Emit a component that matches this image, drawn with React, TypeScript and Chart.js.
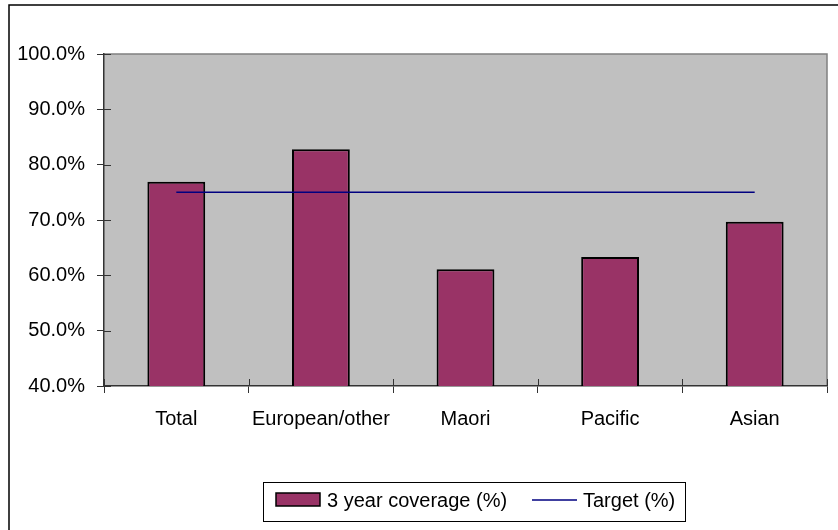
import React, { useEffect, useRef } from "react";
import { Chart, registerables } from "chart.js";

Chart.register(...registerables);

const categories = ["Total", "European/other", "Maori", "Pacific", "Asian"];
const coverage = [76.9, 82.8, 61.1, 63.3, 69.7];
const target = [75, 75, 75, 75, 75];
const yTicks = { min: 40, max: 100, step: 10 };
const seriesLabels = ["3 year coverage (%)", "Target (%)"];

const FONT = "'Liberation Sans', Arial, sans-serif";
const FONT_SIZE = 20;

const backgroundPlugin = {
  id: "plotBg",
  beforeDraw(chart: any) {
    const { ctx, chartArea } = chart;
    ctx.save();
    ctx.fillStyle = "#ffffff";
    ctx.fillRect(0, 0, chart.width, chart.height);
    // outer frame
    ctx.strokeStyle = "#000000";
    ctx.lineWidth = 1.5;
    ctx.strokeRect(9, 5, chart.width + 50, chart.height + 50);
    // plot area
    ctx.fillStyle = "#C0C0C0";
    ctx.fillRect(chartArea.left, chartArea.top, chartArea.right - chartArea.left, chartArea.bottom - chartArea.top);
    ctx.strokeStyle = "#808080";
    ctx.lineWidth = 1.5;
    ctx.beginPath();
    ctx.moveTo(chartArea.left, chartArea.top);
    ctx.lineTo(chartArea.right, chartArea.top);
    ctx.lineTo(chartArea.right, chartArea.bottom);
    ctx.stroke();
    ctx.restore();
  },
  afterDatasetsDraw(chart: any) {
    // inner halves of tick marks
    const { ctx, chartArea } = chart;
    const x = chart.scales.x;
    const y = chart.scales.y;
    ctx.save();
    ctx.strokeStyle = "#333333";
    ctx.lineWidth = 1;
    ctx.beginPath();
    y.ticks.forEach((_: any, i: number) => {
      const py = Math.round(y.getPixelForTick(i)) + 0.5;
      ctx.moveTo(chartArea.left, py);
      ctx.lineTo(chartArea.left + 7, py);
    });
    for (let i = 0; i <= categories.length; i++) {
      const px = Math.round(x.left + (i * (x.right - x.left)) / categories.length) + 0.5;
      ctx.moveTo(px, chartArea.bottom);
      ctx.lineTo(px, chartArea.bottom - 7);
    }
    ctx.stroke();
    ctx.restore();
  },
};

const legendPlugin = {
  id: "customLegend",
  afterDraw(chart: any) {
    const { ctx } = chart;
    const ds0 = chart.data.datasets[0];
    const ds1 = chart.data.datasets[1];
    ctx.save();
    ctx.fillStyle = "#ffffff";
    ctx.fillRect(263, 482, 422, 39);
    ctx.strokeStyle = "#000000";
    ctx.lineWidth = 1;
    ctx.strokeRect(263.5, 482.5, 422, 39);
    // bar swatch
    ctx.fillStyle = ds0.backgroundColor;
    ctx.fillRect(276, 493, 44, 13);
    ctx.lineWidth = 1.5;
    ctx.strokeRect(276, 493, 44, 13);
    ctx.fillStyle = "#000000";
    ctx.font = `${FONT_SIZE}px ${FONT}`;
    ctx.textBaseline = "middle";
    ctx.textAlign = "left";
    ctx.fillText(ds0.label, 327, 501);
    // line swatch
    ctx.strokeStyle = ds1.borderColor;
    ctx.lineWidth = 1.5;
    ctx.beginPath();
    ctx.moveTo(532, 500);
    ctx.lineTo(577, 500);
    ctx.stroke();
    ctx.fillText(ds1.label, 583, 501);
    ctx.restore();
  },
};

export default function App() {
  const ref = useRef<HTMLCanvasElement | null>(null);
  useEffect(() => {
    document.body.style.margin = "0";
    const canvas = ref.current!;
    const chart = new Chart(canvas, {
      type: "bar",
      data: {
        labels: categories,
        datasets: [
          {
            type: "bar",
            label: seriesLabels[0],
            data: coverage,
            backgroundColor: "#993366",
            borderColor: "#000000",
            borderWidth: 2,
            barPercentage: 0.4,
            categoryPercentage: 1,
            order: 2,
          } as any,
          {
            type: "line",
            label: seriesLabels[1],
            data: target,
            borderColor: "#000080",
            backgroundColor: "#000080",
            borderWidth: 1.5,
            pointRadius: 0,
            fill: false,
            order: 1,
          } as any,
        ],
      },
      options: {
        responsive: false,
        animation: false,
        layout: { padding: { top: 54, right: 11, left: 0, bottom: 0 } },
        plugins: {
          legend: { display: false },
          tooltip: { enabled: false },
          title: { display: false },
        },
        scales: {
          x: {
            offset: true,
            grid: {
              display: true,
              offset: true,
              drawOnChartArea: false,
              drawTicks: true,
              tickLength: 7,
              color: "#333333",
            },
            border: { display: true, color: "#333333", width: 1.5 },
            ticks: {
              color: "#000000",
              font: { family: FONT, size: FONT_SIZE },
              padding: 14,
              maxRotation: 0,
              autoSkip: false,
            },
            afterFit: (s: any) => {
              s.height = 144;
            },
          },
          y: {
            min: yTicks.min,
            max: yTicks.max,
            grid: {
              display: true,
              drawOnChartArea: false,
              drawTicks: true,
              tickLength: 7,
              color: "#333333",
            },
            border: { display: true, color: "#333333", width: 1.5 },
            ticks: {
              stepSize: yTicks.step,
              color: "#000000",
              font: { family: FONT, size: FONT_SIZE },
              padding: 12,
              callback: (v: any) => Number(v).toFixed(1) + "%",
            },
            afterFit: (s: any) => {
              s.width = 104;
            },
          },
        },
      },
      plugins: [backgroundPlugin, legendPlugin],
    });
    return () => chart.destroy();
  }, []);
  return (
    <canvas ref={ref} width={838} height={530} style={{ display: "block" }} />
  );
}
